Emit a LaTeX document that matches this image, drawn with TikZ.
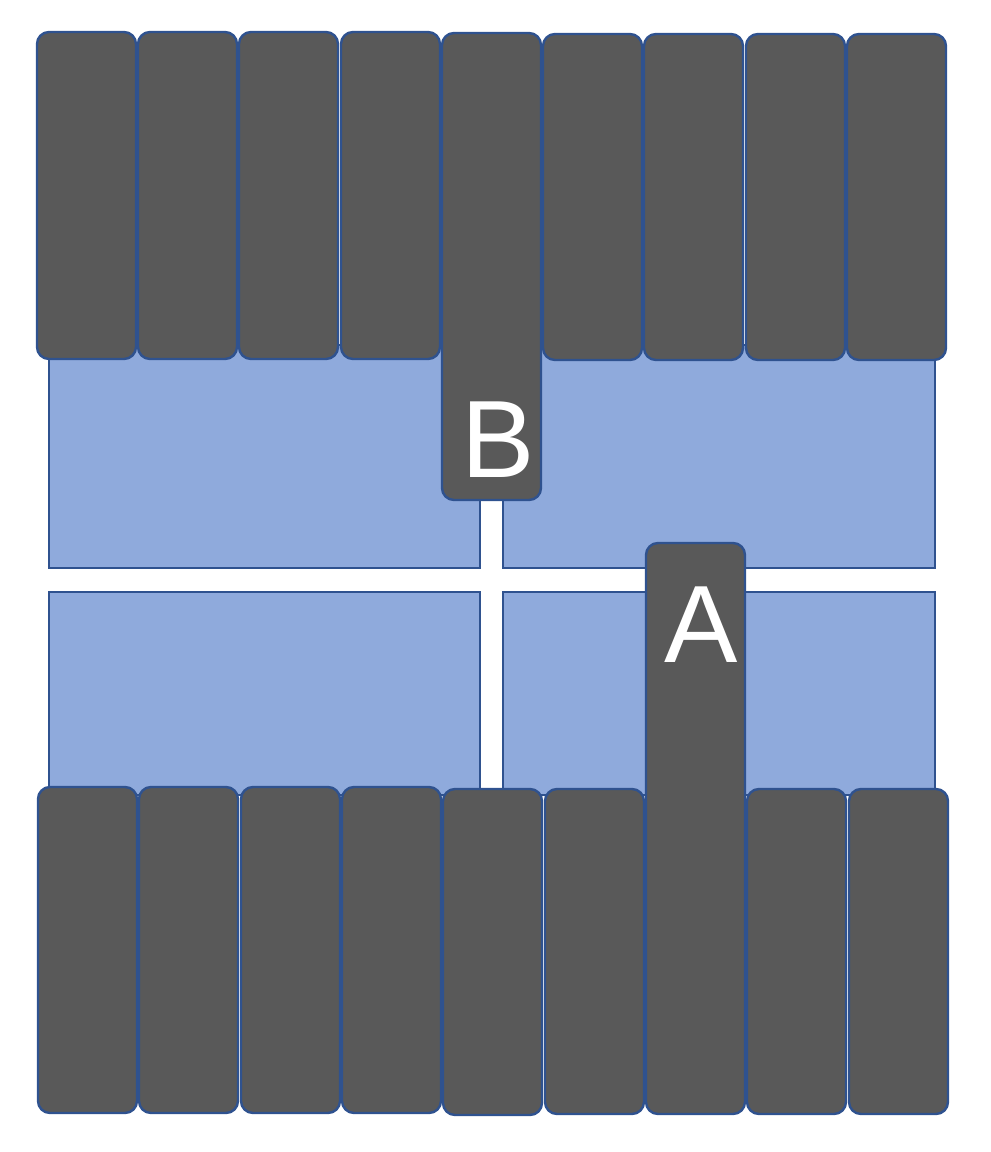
\documentclass[tikz,border=0pt]{standalone}
\usepackage{fontspec}
\setmainfont{Liberation Sans}
\definecolor{boxfill}{HTML}{595959}
\definecolor{edgeblue}{HTML}{2F528F}
\definecolor{panelblue}{HTML}{8FAADC}
\begin{document}
\begin{tikzpicture}[x=1pt,y=-1pt,
  bar/.style={draw=edgeblue, fill=boxfill, line width=2.4pt, rounded corners=12pt,
    rectangle, inner sep=0pt, outer sep=0pt, anchor=north west, minimum width=99pt},
  panel/.style={draw=edgeblue, fill=panelblue, line width=1.4pt},
  letter/.style={text=white, font=\fontsize{110}{110}\selectfont, inner sep=0pt, anchor=base}]
\useasboundingbox (0,0) rectangle (991,1152);
% panels
\draw[panel] (49,345) rectangle (480,568);
\draw[panel] (503,345) rectangle (935,568);
\draw[panel] (49,592) rectangle (480,795);
\draw[panel] (503,592) rectangle (935,795);
% top row
\node[bar, minimum height=327pt] (t1) at (37,32) {};
\node[bar, minimum height=327pt] (t2) at (138,32) {};
\node[bar, minimum height=327pt] (t3) at (239,32) {};
\node[bar, minimum height=327pt] (t4) at (341,32) {};
\node[bar, minimum height=326pt] (t6) at (543,34) {};
\node[bar, minimum height=326pt] (t7) at (644,34) {};
\node[bar, minimum height=326pt] (t8) at (746,34) {};
\node[bar, minimum height=326pt] (t9) at (847,34) {};
\node[bar, minimum height=467pt] (tB) at (442,33) {};
% bottom row
\node[bar, minimum height=326pt] (b1) at (38,787) {};
\node[bar, minimum height=326pt] (b2) at (139,787) {};
\node[bar, minimum height=326pt] (b3) at (241,787) {};
\node[bar, minimum height=326pt] (b4) at (342,787) {};
\node[bar, minimum height=326pt] (b5) at (443,789) {};
\node[bar, minimum height=325pt] (b6) at (545,789) {};
\node[bar, minimum height=325pt] (b8) at (747,789) {};
\node[bar, minimum height=325pt] (b9) at (849,789) {};
\node[bar, minimum height=571pt] (bA) at (646,543) {};
% letters
\node[letter] (lB) at (498,477) {B};
\node[letter] (lA) at (701,662) {A};
\end{tikzpicture}
\end{document}
